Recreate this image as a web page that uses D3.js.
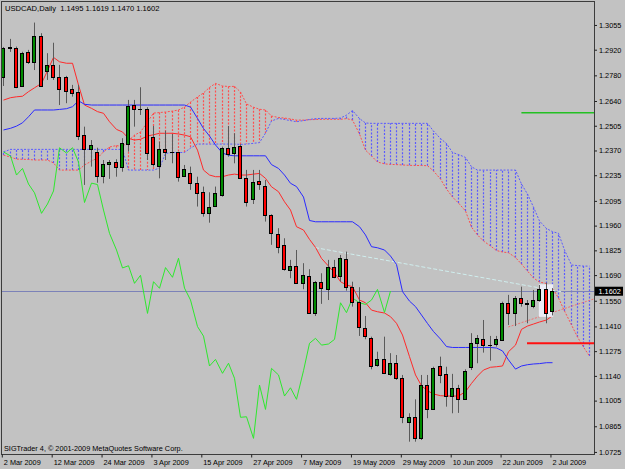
<!DOCTYPE html>
<html>
<head>
<meta charset="utf-8">
<script src="https://cdn.jsdelivr.net/npm/d3@7"></script>
<style>
  body { margin: 0; background: #c2c2c2; }
  svg { display: block; }
  text { font-family: "Liberation Sans", Arial, sans-serif; }
</style>
</head>
<body>
<div id="chart"></div>
<script>
var width = 625, height = 469;
var bg = '#c2c2c2';

// daily USDCAD bars, 2 Mar 2009 .. 2 Jul 2009
var opens = [
  1.2773,1.2935,1.2928,1.2722,1.2906,1.2855,1.2995,1.2806,1.2837,1.2773,
  1.2773,1.2704,1.2691,1.2455,1.2378,1.2364,1.2233,1.2295,1.2309,1.2282,
  1.2406,1.2617,1.2598,1.2598,1.2446,1.2287,1.2377,1.2364,1.2360,1.2231,
  1.2249,1.2191,1.2145,1.2027,1.2067,1.2127,1.2382,1.2358,1.2395,1.2222,
  1.2104,1.2204,1.2178,1.2020,1.1913,1.1855,1.1718,1.1740,1.1645,1.1685,
  1.1482,1.1654,1.1613,1.1733,1.1687,1.1776,1.1627,1.1545,1.1403,1.1349,
  1.1200,1.1231,1.1151,1.1209,1.1127,1.0890,1.0918,1.0800,1.1091,1.0958,
  1.1194,1.1151,1.1031,1.1076,1.1012,1.1190,1.1321,1.1340,1.1310,1.1314,
  1.1336,1.1540,1.1482,1.1564,1.1540,1.1522,1.1554,1.1613,1.1495];
var highs = [
  1.2935,1.2979,1.2937,1.2909,1.2919,1.3068,1.3010,1.2901,1.2958,1.2837,
  1.2777,1.2728,1.2728,1.2500,1.2427,1.2385,1.2318,1.2318,1.2322,1.2437,
  1.2646,1.2646,1.2715,1.2606,1.2504,1.2418,1.2478,1.2460,1.2362,1.2291,
  1.2282,1.2227,1.2173,1.2142,1.2173,1.2391,1.2504,1.2464,1.2404,1.2264,
  1.2264,1.2264,1.2209,1.2022,1.1946,1.1891,1.1773,1.1827,1.1755,1.1722,
  1.1658,1.1700,1.1773,1.1773,1.1800,1.1818,1.1654,1.1624,1.1467,1.1354,
  1.1272,1.1354,1.1264,1.1254,1.1145,1.0936,1.1012,1.1145,1.1145,1.1190,
  1.1245,1.1190,1.1151,1.1091,1.1176,1.1373,1.1363,1.1445,1.1358,1.1358,
  1.1545,1.1582,1.1576,1.1627,1.1554,1.1609,1.1636,1.1649,1.1619];
var lows = [
  1.2722,1.2908,1.2710,1.2718,1.2842,1.2809,1.2718,1.2755,1.2755,1.2618,
  1.2628,1.2664,1.2427,1.2182,1.2282,1.2194,1.2191,1.2215,1.2227,1.2254,
  1.2364,1.2500,1.2564,1.2318,1.2282,1.2218,1.2318,1.2300,1.2200,1.2226,
  1.2155,1.2064,1.2009,1.1976,1.2064,1.2118,1.2336,1.2300,1.2215,1.2064,
  1.2078,1.2155,1.1982,1.1855,1.1809,1.1714,1.1673,1.1642,1.1613,1.1478,
  1.1467,1.1533,1.1554,1.1673,1.1654,1.1605,1.1518,1.1358,1.1340,1.1176,
  1.1190,1.1150,1.1140,1.1118,1.0882,1.0781,1.0781,1.0790,1.0909,1.0954,
  1.1100,1.0972,1.0936,1.0938,1.1009,1.1172,1.1209,1.1267,1.1223,1.1300,
  1.1332,1.1418,1.1412,1.1518,1.1427,1.1509,1.1545,1.1427,1.1470];
var closes = [
  1.2928,1.2930,1.2718,1.2901,1.2855,1.2995,1.2722,1.2835,1.2770,1.2704,
  1.2697,1.2686,1.2449,1.2378,1.2399,1.2231,1.2297,1.2309,1.2282,1.2409,
  1.2613,1.2595,1.2596,1.2358,1.2295,1.2378,1.2362,1.2363,1.2227,1.2269,
  1.2191,1.2140,1.2027,1.2064,1.2140,1.2385,1.2351,1.2391,1.2222,1.2088,
  1.2197,1.2186,1.2018,1.1918,1.1845,1.1722,1.1742,1.1645,1.1689,1.1482,
  1.1654,1.1618,1.1733,1.1678,1.1782,1.1624,1.1545,1.1409,1.1358,1.1194,
  1.1231,1.1154,1.1209,1.1127,1.0914,1.0918,1.0800,1.1091,1.0958,1.1182,
  1.1145,1.1031,1.1076,1.1012,1.1169,1.1318,1.1345,1.1309,1.1309,1.1340,
  1.1540,1.1485,1.1567,1.1540,1.1531,1.1554,1.1613,1.1482,1.1602];

// ichimoku lines
var tenkan = [
  1.2645,1.2658,1.2663,1.2666,1.2691,1.2712,1.2736,1.2805,1.2878,1.2854,
  1.2846,1.2846,1.2727,1.2618,1.2600,1.2582,1.2573,1.2527,1.2485,1.2471,
  1.2436,1.2427,1.2431,1.2449,1.2456,1.2464,1.2464,1.2464,1.2460,1.2454,
  1.2445,1.2372,1.2263,1.2236,1.2227,1.2227,1.2236,1.2241,1.2236,1.2236,
  1.2241,1.2245,1.2218,1.2172,1.2145,1.2090,1.2045,1.1954,1.1936,1.1885,
  1.1841,1.1781,1.1739,1.1703,1.1654,1.1636,1.1627,1.1554,1.1539,1.1499,
  1.1490,1.1483,1.1463,1.1427,1.1363,1.1245,1.1145,1.1086,1.1059,1.1041,
  1.1032,1.1030,1.1030,1.1030,1.1054,1.1099,1.1139,1.1172,1.1187,1.1190,
  1.1194,1.1272,1.1308,1.1394,1.1412,1.1423,1.1434,1.1445,1.1468];
var kijun = [
  1.2482,1.2491,1.2503,1.2521,1.2554,1.2591,1.2591,1.2591,1.2591,1.2594,
  1.2598,1.2609,1.2641,1.2622,1.2618,1.2618,1.2618,1.2618,1.2618,1.2618,
  1.2618,1.2618,1.2618,1.2618,1.2618,1.2618,1.2618,1.2618,1.2618,1.2618,
  1.2607,1.2545,1.2490,1.2449,1.2400,1.2356,1.2344,1.2341,1.2341,1.2341,
  1.2341,1.2341,1.2341,1.2293,1.2272,1.2236,1.2191,1.2173,1.2116,1.1988,
  1.1981,1.1981,1.1981,1.1981,1.1981,1.1981,1.1981,1.1954,1.1909,1.1845,
  1.1839,1.1827,1.1794,1.1748,1.1600,1.1548,1.1518,1.1472,1.1426,1.1382,
  1.1341,1.1300,1.1295,1.1295,1.1295,1.1295,1.1295,1.1295,1.1295,1.1292,
  1.1276,1.1227,1.1177,1.1194,1.1201,1.1205,1.1207,1.1212,1.1212];
var senkouA = [
  1.2345,1.2334,1.2323,1.2322,1.2321,1.2318,1.2318,1.2318,1.2302,1.2263,
  1.2263,1.2263,1.2263,1.2291,1.2312,1.2329,1.2362,1.2389,1.2397,1.2391,
  1.2422,1.2454,1.2471,1.2525,1.2574,1.2577,1.2580,1.2585,1.2591,1.2607,
  1.2634,1.2662,1.2684,1.2714,1.2736,1.2722,1.2719,1.2720,1.2689,1.2624,
  1.2606,1.2595,1.2591,1.2558,1.2550,1.2547,1.2542,1.2536,1.2536,1.2538,
  1.2539,1.2540,1.2540,1.2540,1.2540,1.2544,1.2536,1.2460,1.2372,1.2340,
  1.2307,1.2297,1.2294,1.2293,1.2291,1.2289,1.2288,1.2288,1.2287,1.2258,
  1.2214,1.2160,1.2116,1.2083,1.2040,1.1952,1.1909,1.1876,1.1849,1.1824,
  1.1816,1.1812,1.1786,1.1750,1.1712,1.1674,1.1652,1.1644,1.1619,1.1565,
  1.1494,1.1418,1.1352,1.1297,1.1248];
var senkouB = [
  1.2362,1.2376,1.2376,1.2376,1.2376,1.2376,1.2376,1.2376,1.2376,1.2376,
  1.2376,1.2376,1.2376,1.2376,1.2376,1.2376,1.2376,1.2376,1.2376,1.2376,
  1.2263,1.2263,1.2263,1.2263,1.2263,1.2274,1.2354,1.2359,1.2359,1.2359,
  1.2383,1.2405,1.2405,1.2405,1.2405,1.2405,1.2405,1.2405,1.2403,1.2405,
  1.2409,1.2413,1.2465,1.2531,1.2545,1.2539,1.2533,1.2527,1.2533,1.2539,
  1.2544,1.2545,1.2545,1.2545,1.2547,1.2563,1.2588,1.2544,1.2520,1.2518,
  1.2518,1.2518,1.2518,1.2518,1.2518,1.2518,1.2518,1.2518,1.2518,1.2476,
  1.2435,1.2408,1.2359,1.2348,1.2332,1.2281,1.2263,1.2263,1.2263,1.2263,
  1.2263,1.2263,1.2263,1.2187,1.2132,1.2061,1.1985,1.1944,1.1927,1.1918,
  1.1827,1.1745,1.1742,1.1739,1.1739];
var chikou = [
  1.2362,1.2340,1.2236,1.2272,1.2187,1.2139,1.2027,1.2078,1.2149,1.2385,
  1.2356,1.2385,1.2307,1.2086,1.2192,1.2184,1.2045,1.1918,1.1827,1.1729,
  1.1741,1.1645,1.1689,1.1481,1.1654,1.1618,1.1731,1.1678,1.1782,1.1619,
  1.1554,1.1409,1.1357,1.1194,1.1230,1.1154,1.1209,1.1127,1.0914,1.0917,
  1.0799,1.1090,1.0957,1.1181,1.1145,1.1030,1.1075,1.1012,1.1168,1.1318,
  1.1345,1.1308,1.1314,1.1339,1.1539,1.1485,1.1565,1.1539,1.1530,1.1554,
  1.1612,1.1486,1.1603];

// drawn objects: two horizontal levels, two trend lines, one box
var levelPrices = [1.2576, 1.1318];
var levelStartBars = [83.1, 84.0];
var cyanTrendBars = [50, 89.5], cyanTrendPrices = [1.1840, 1.1599];
var pinkTrendBars = [81, 95], pinkTrendPrices = [1.1407, 1.1563];
var boxBars = [85.9, 88.2], boxPrices = [1.1640, 1.1462];

var lastPrice = 1.1602;
var priceTicks = [1.3055,1.2920,1.2780,1.2640,1.2505,1.2370,1.2235,1.2095,1.1960,
                  1.1825,1.1690,1.1550,1.1410,1.1275,1.1140,1.1005,1.0865,1.0725];
var tickBars = [0,8,16,24,32,40,48,56,64,72,80,88];
var dateLabels = ['2 Mar 2009','12 Mar 2009','24 Mar 2009','3 Apr 2009','15 Apr 2009',
                  '27 Apr 2009','7 May 2009','19 May 2009','29 May 2009','10 Jun 2009',
                  '22 Jun 2009','2 Jul 2009'];

var svg = d3.select('#chart').append('svg')
    .attr('width', width)
    .attr('height', height);
svg.append('rect').attr('width', width).attr('height', height).attr('fill', bg);

var x = d3.scaleLinear().domain([0, 95]).range([3.3, 595.6]);
var y = d3.scaleLinear().domain([1.0711, 1.3183]).range([454.5, 1.5]);
function px(i) { return Math.round(x(i)) + 0.5; }
function py(p) { return Math.round(y(p)) + 0.5; }

svg.append('clipPath').attr('id', 'plotClip')
  .append('rect').attr('x', 2).attr('y', 2).attr('width', 592).attr('height', 452);
var plot = svg.append('g').attr('clip-path', 'url(#plotClip)');

var cloudRed = '#ff4e4e', cloudBlue = '#5a5aff';

// cloud hatching, one dotted stroke per bar
plot.selectAll('line.hatch')
  .data(d3.range(senkouA.length))
  .enter().append('line')
    .attr('class', 'hatch')
    .attr('x1', i => px(i)).attr('x2', i => px(i))
    .attr('y1', i => y(senkouA[i])).attr('y2', i => y(senkouB[i]))
    .attr('stroke', i => senkouA[i] > senkouB[i] ? cloudRed : cloudBlue)
    .attr('stroke-width', 1.2)
    .attr('stroke-dasharray', '2,1.6');

var line = d3.line().x((d, i) => px(i)).y(d => y(d));

plot.append('path').datum(senkouA).attr('d', line)
  .attr('fill', 'none').attr('stroke', cloudRed).attr('stroke-dasharray', '2,1.5');
plot.append('path').datum(senkouB).attr('d', line)
  .attr('fill', 'none').attr('stroke', cloudBlue).attr('stroke-dasharray', '2,1.5');

// last price line
plot.append('line')
  .attr('x1', 0).attr('x2', 600)
  .attr('y1', py(lastPrice)).attr('y2', py(lastPrice))
  .attr('stroke', '#7c82b8').attr('stroke-width', 1);

// trend lines
plot.append('line')
  .attr('x1', x(cyanTrendBars[0])).attr('x2', x(cyanTrendBars[1]))
  .attr('y1', y(cyanTrendPrices[0])).attr('y2', y(cyanTrendPrices[1]))
  .attr('stroke', '#d0eeee').attr('stroke-dasharray', '4,2');
plot.append('line')
  .attr('x1', x(pinkTrendBars[0])).attr('x2', x(pinkTrendBars[1]))
  .attr('y1', y(pinkTrendPrices[0])).attr('y2', y(pinkTrendPrices[1]))
  .attr('stroke', '#f07070').attr('stroke-dasharray', '2,1.5');

plot.append('path').datum(tenkan).attr('d', line)
  .attr('fill', 'none').attr('stroke', '#ff2a2a').attr('stroke-width', 1);
plot.append('path').datum(kijun).attr('d', line)
  .attr('fill', 'none').attr('stroke', '#2a2aff').attr('stroke-width', 1);
plot.append('path').datum(chikou).attr('d', line)
  .attr('fill', 'none').attr('stroke', '#2ee82e').attr('stroke-width', 1);

// horizontal levels
var levelColors = ['#22c022', '#ff1010'];
var levelWidths = [1.3, 2];
plot.selectAll('line.level')
  .data(levelPrices)
  .enter().append('line')
    .attr('class', 'level')
    .attr('x1', (d, i) => x(levelStartBars[i])).attr('x2', 600)
    .attr('y1', d => y(d)).attr('y2', d => y(d))
    .attr('stroke', (d, i) => levelColors[i])
    .attr('stroke-width', (d, i) => levelWidths[i]);

// highlight box
plot.append('rect')
  .attr('x', x(boxBars[0])).attr('width', x(boxBars[1]) - x(boxBars[0]))
  .attr('y', y(boxPrices[0])).attr('height', y(boxPrices[1]) - y(boxPrices[0]))
  .attr('fill', '#ececf6');

// candles
var candles = plot.selectAll('g.candle')
  .data(d3.range(closes.length))
  .enter().append('g').attr('class', 'candle');

candles.append('line')
  .attr('x1', i => px(i)).attr('x2', i => px(i))
  .attr('y1', i => y(highs[i])).attr('y2', i => y(lows[i]))
  .attr('stroke', '#5a5a5a').attr('stroke-width', 1);

candles.each(function (i) {
  var g = d3.select(this);
  var top = py(Math.max(opens[i], closes[i]));
  var bot = py(Math.min(opens[i], closes[i]));
  var r = Math.round(x(i));
  if (bot - top < 1) {
    g.append('line')
      .attr('x1', r - 2).attr('x2', r + 2)
      .attr('y1', top).attr('y2', top)
      .attr('stroke', '#000');
  } else {
    g.append('rect')
      .attr('x', r - 1.5).attr('width', 3)
      .attr('y', top).attr('height', bot - top)
      .attr('fill', closes[i] >= opens[i] ? '#008a00' : '#ff0000')
      .attr('stroke', '#000').attr('stroke-width', 1);
  }
});

// frame
svg.append('rect')
  .attr('x', 1.5).attr('y', 1.5).attr('width', 593).attr('height', 453)
  .attr('fill', 'none').attr('stroke', '#3c3c3c').attr('stroke-width', 1);

// price axis
var yAxis = d3.axisRight(y)
  .tickValues(priceTicks)
  .tickFormat(d3.format('.4f'))
  .tickSize(2.5)
  .tickPadding(2);
var gy = svg.append('g').attr('transform', 'translate(594.5,0)').call(yAxis);
gy.select('.domain').remove();
gy.selectAll('line').attr('stroke', '#202020');
gy.selectAll('text').attr('font-size', 7.3).attr('fill', '#000')
  .style('font-family', '"Liberation Sans", Arial, sans-serif');

// time axis
var xAxis = d3.axisBottom(x)
  .tickValues(tickBars)
  .tickFormat((d, i) => dateLabels[i])
  .tickSize(3)
  .tickPadding(2);
var gx = svg.append('g').attr('transform', 'translate(-1.5,454.5)').call(xAxis);
gx.select('.domain').remove();
gx.selectAll('line').attr('stroke', '#202020');
gx.selectAll('text')
  .attr('x', 1.5)
  .style('text-anchor', 'start')
  .attr('font-size', 7.3).attr('fill', '#000')
  .style('font-family', '"Liberation Sans", Arial, sans-serif');

// last price tag
svg.append('rect')
  .attr('x', 595).attr('y', y(lastPrice) - 4.5)
  .attr('width', 28).attr('height', 9)
  .attr('fill', '#000');
svg.append('text')
  .attr('x', 598.5).attr('y', y(lastPrice))
  .attr('dy', '0.34em')
  .attr('font-size', 7.3).attr('fill', '#fff')
  .text(d3.format('.4f')(lastPrice));

// header and footer
svg.append('text')
  .attr('x', 5).attr('y', 10.5)
  .attr('font-size', 7.6).attr('fill', '#000')
  .attr('xml:space', 'preserve')
  .style('white-space', 'pre')
  .text('USDCAD,Daily  ' + [opens[88], highs[88], lows[88], closes[88]].map(d3.format('.4f')).join(' '));

svg.append('text')
  .attr('x', 4).attr('y', 451)
  .attr('font-size', 7.3).attr('fill', '#000')
  .text('SIGTrader 4, \u00a9 2001-2009 MetaQuotes Software Corp.');
</script>
</body>
</html>
